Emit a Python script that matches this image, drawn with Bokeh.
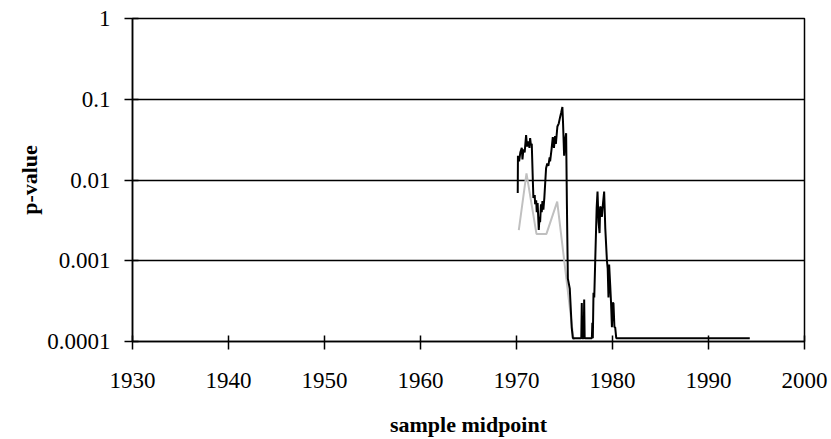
from bokeh.plotting import figure
from bokeh.models import FixedTicker, Range1d
from bokeh.embed import file_html
from bokeh.resources import INLINE

# Data
black_year = [1970.13, 1970.15, 1970.27, 1970.40, 1970.55, 1970.62, 1970.72, 1970.85,
              1971.00, 1971.10, 1971.24, 1971.35, 1971.42, 1971.50, 1971.59, 1971.70,
              1971.76, 1971.90, 1971.94, 1972.05, 1972.11, 1972.20, 1972.32, 1972.40,
              1972.46, 1972.55, 1972.63, 1972.70, 1972.80, 1972.90, 1973.08, 1973.20,
              1973.32, 1973.45, 1973.50, 1973.65, 1973.78, 1973.90, 1974.02, 1974.10,
              1974.26, 1974.40, 1974.54, 1974.65, 1974.78, 1974.85, 1974.96, 1975.05,
              1975.17, 1975.25, 1975.35, 1975.55, 1975.75, 1975.87,
              1976.75, 1976.80, 1976.85, 1977.00, 1977.05, 1977.10,
              1977.85, 1977.90, 1977.95, 1978.02, 1978.10, 1978.20, 1978.35, 1978.44,
              1978.55, 1978.65, 1978.72, 1978.80, 1978.89, 1979.00, 1979.13, 1979.25,
              1979.42, 1979.50, 1979.58, 1979.65, 1979.76, 1979.85, 1979.94, 1980.02,
              1980.10, 1980.20, 1980.28, 1980.39, 1994.30]
black_p = [0.0069, 0.020, 0.017, 0.022, 0.025, 0.018, 0.024, 0.022,
           0.036, 0.026, 0.030, 0.025, 0.033, 0.027, 0.028, 0.010,
           0.006, 0.0065, 0.0050, 0.0056, 0.0040, 0.0052, 0.0024, 0.0035,
           0.0030, 0.0050, 0.0040, 0.0055, 0.0043, 0.0060, 0.014, 0.016,
           0.015, 0.019, 0.017, 0.024, 0.034, 0.025, 0.035, 0.028,
           0.046, 0.050, 0.060, 0.068, 0.080, 0.050, 0.020, 0.030,
           0.038, 0.005, 0.0006, 0.00045, 0.00015, 0.00011,
           0.00011, 0.0003, 0.00011, 0.00011, 0.00033, 0.00011,
           0.00011, 0.00017, 0.00011, 0.0004, 0.00035, 0.001, 0.0045, 0.0072,
           0.003, 0.0022, 0.0047, 0.0045, 0.0035, 0.005, 0.0072, 0.0025,
           0.001, 0.0008, 0.00035, 0.0009, 0.0005, 0.0003, 0.00015, 0.0003,
           0.0003, 0.00015, 0.00015, 0.00011, 0.00011]

gray_year = [1970.24, 1971.04, 1972.08, 1973.12, 1974.24, 1975.97]
gray_p = [0.0024, 0.0121, 0.00215, 0.00215, 0.0054, 0.0001]

x_ticks = [1930, 1940, 1950, 1960, 1970, 1980, 1990, 2000]
y_ticks = [0.0001, 0.001, 0.01, 0.1, 1]
y_labels = ["0.0001", "0.001", "0.01", "0.1", "1"]

FONT = "Liberation Serif"

p = figure(width=831, height=439, y_axis_type="log",
           x_range=Range1d(1930, 2000), y_range=Range1d(0.0001, 1),
           output_backend="svg", toolbar_location=None,
           min_border_left=132, min_border_right=27,
           min_border_top=18, min_border_bottom=97)

p.background_fill_color = "white"
p.border_fill_color = "white"
p.outline_line_color = "black"
p.outline_line_width = 1.5

p.xgrid.visible = False
p.ygrid.ticker = FixedTicker(ticks=y_ticks)
p.ygrid.grid_line_color = "black"
p.ygrid.grid_line_width = 1.3

p.line(gray_year, gray_p, line_color="#c0c0c0", line_width=2)
p.line(black_year, black_p, line_color="black", line_width=2)

p.xaxis.ticker = FixedTicker(ticks=x_ticks)
p.yaxis.ticker = FixedTicker(ticks=y_ticks)
p.yaxis.major_label_overrides = {t: l for t, l in zip(y_ticks, y_labels)}
p.xaxis.minor_tick_line_color = None
p.yaxis.minor_tick_line_color = None

for ax in (p.xaxis, p.yaxis):
    ax.axis_line_color = "black"
    ax.axis_line_width = 1.5
    ax.major_tick_line_color = "black"
    ax.major_tick_line_width = 1.5
    ax.major_tick_in = 6
    ax.major_tick_out = 8
    ax.major_label_text_font = FONT
    ax.major_label_text_font_size = "23px"
    ax.major_label_text_color = "black"
    ax.axis_label_text_font = FONT
    ax.axis_label_text_font_size = "22px"
    ax.axis_label_text_font_style = "bold"
    ax.axis_label_text_color = "black"

p.xaxis.axis_label = "sample midpoint"
p.yaxis.axis_label = "p-value"
p.xaxis.major_label_standoff = 23
p.yaxis.major_label_standoff = 14
p.xaxis.axis_label_standoff = 21
p.yaxis.axis_label_standoff = 2

open("out.html", "w").write(file_html(p, INLINE))
